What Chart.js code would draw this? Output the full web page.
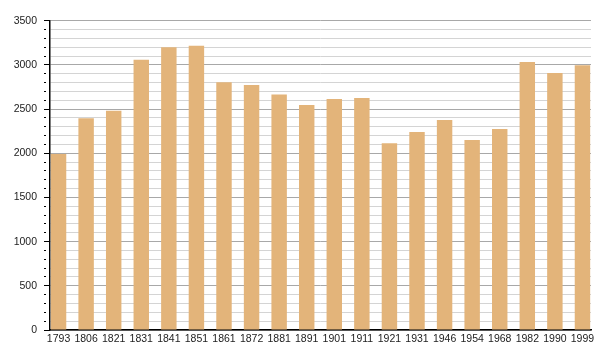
<!DOCTYPE html>
<html>
<head>
<meta charset="utf-8">
<script src="https://cdn.jsdelivr.net/npm/chart.js@4/dist/chart.umd.min.js"></script>
<style>
  html, body { margin: 0; padding: 0; background: #fff; }
  #wrap { width: 600px; height: 360px; position: relative; }
</style>
</head>
<body>
<div id="wrap"><canvas id="c"></canvas></div>
<script>
const categories = ['1793','1806','1821','1831','1841','1851','1861','1872','1881','1891','1901','1911','1921','1931','1946','1954','1968','1982','1990','1999'];
const population = [1993, 2395, 2482, 3059, 3199, 3217, 2803, 2772, 2665, 2546, 2614, 2625, 2112, 2240, 2376, 2150, 2275, 3033, 2908, 2995];
const yTickStep = 100;
const yLabelStep = 500;
const yMax = 3500;

const points = population.map((v, i) => ({ x: i, y: v }));

new Chart(document.getElementById('c'), {
  type: 'bar',
  data: {
    datasets: [{
      data: points,
      backgroundColor: '#e3b47a',
      borderWidth: 0,
      categoryPercentage: 1,
      barPercentage: 0.56
    }]
  },
  options: {
    responsive: true,
    maintainAspectRatio: false,
    animation: false,
    layout: { padding: { top: 20.7, right: 9, left: 0, bottom: 0 } },
    plugins: { legend: { display: false }, tooltip: { enabled: false } },
    scales: {
      x: {
        type: 'linear',
        offset: false,
        bounds: 'data',
        min: -0.31,
        max: categories.length - 1 + 0.31,
        afterBuildTicks: (axis) => { axis.ticks = categories.map((_, i) => ({ value: i })); },
        afterFit: (s) => { s.height = 30; },
        grid: { display: false, drawTicks: false, offset: false },
        border: { display: true, color: '#000', width: 1.5 },
        ticks: {
          autoSkip: false,
          maxRotation: 0,
          padding: 3,
          color: '#222',
          font: { family: '"Liberation Sans", Arial, sans-serif', size: 10.5 },
          callback: (v) => categories[v]
        }
      },
      y: {
        min: 0,
        max: yMax,
        afterFit: (s) => { s.width = 50; },
        border: { display: true, color: '#000', width: 1.5 },
        grid: {
          color: (ctx) => (ctx.tick && ctx.tick.value % yLabelStep === 0) ? '#a8a8a8' : '#d4d4d4',
          tickColor: '#000',
          tickLength: 6,
          tickBorderDash: (ctx) => (ctx.tick && ctx.tick.value % yLabelStep === 0) ? [] : [2, 10],
          lineWidth: 1
        },
        ticks: {
          stepSize: yTickStep,
          autoSkip: false,
          padding: 7,
          color: '#222',
          font: { family: '"Liberation Sans", Arial, sans-serif', size: 10.5 },
          callback: (v) => (v % yLabelStep === 0) ? String(v) : ''
        }
      }
    }
  }
});
</script>
</body>
</html>
